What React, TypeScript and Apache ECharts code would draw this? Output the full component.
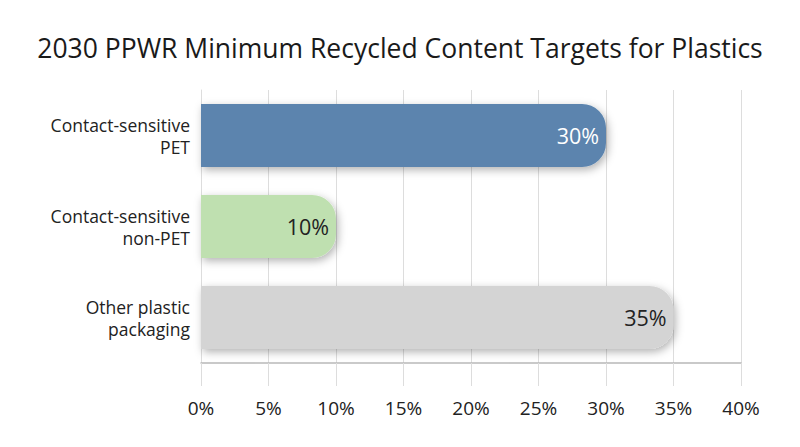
import * as echarts from "echarts";
import React, { useEffect, useRef } from "react";

const categories = ["Contact-sensitive\nPET", "Contact-sensitive\nnon-PET", "Other plastic\npackaging"];
const values = [30, 10, 35];
const barColors = ["#5b84ae", "#bfe0b0", "#d4d4d4"];
const labelColors = ["#ffffff", "#222222", "#222222"];
const title = "2030 PPWR Minimum Recycled Content Targets for Plastics";

const FONT = "'Open Sans', sans-serif";

export default function App() {
  const chartRef = useRef<HTMLDivElement>(null);

  useEffect(() => {
    if (!chartRef.current) return;
    const chart = echarts.init(chartRef.current, null, { renderer: "svg" });

    // the page has an 8px body margin, so the grid is shifted by that much
    const option = {
      animation: false,
      backgroundColor: "#ffffff",
      title: {
        text: title,
        left: "center",
        top: 21,
        textStyle: { fontFamily: FONT, fontSize: 26.5, fontWeight: "normal", color: "#1a1a1a" },
      },
      grid: { left: 193, right: 51, top: 82, bottom: 76 },
      xAxis: {
        type: "value",
        min: 0,
        max: 40,
        interval: 5,
        axisLine: { show: true, lineStyle: { color: "#b8b8b8", width: 1.5 } },
        axisTick: { show: true, length: 23, lineStyle: { color: "#dddddd" } },
        splitLine: { show: true, lineStyle: { color: "#dddddd" } },
        axisLabel: {
          formatter: "{value}%",
          margin: 35,
          fontFamily: FONT,
          fontSize: 19,
          color: "#222222",
        },
      },
      yAxis: {
        type: "category",
        inverse: true,
        data: categories,
        axisLine: { show: true, lineStyle: { color: "#dddddd" } },
        axisTick: { show: false },
        axisLabel: {
          margin: 11,
          fontFamily: FONT,
          fontSize: 17.5,
          lineHeight: 22,
          align: "right",
          color: "#222222",
        },
      },
      series: [
        {
          type: "bar",
          barWidth: 63,
          data: values.map((v, i) => ({
            value: v,
            itemStyle: {
              color: barColors[i],
              borderRadius: [0, 24, 24, 0],
              shadowBlur: 8,
              shadowOffsetX: 2,
              shadowOffsetY: 3,
              shadowColor: "rgba(0,0,0,0.3)",
            },
            label: { color: labelColors[i] },
          })),
          label: {
            show: true,
            position: "insideRight",
            distance: 7,
            formatter: "{c}%",
            fontFamily: FONT,
            fontSize: 21.5,
          },
        },
      ],
    };

    chart.setOption(option);
    return () => {
      chart.dispose();
    };
  }, []);

  return <div ref={chartRef} style={{ width: "784px", height: "431px" }}></div>;
}
